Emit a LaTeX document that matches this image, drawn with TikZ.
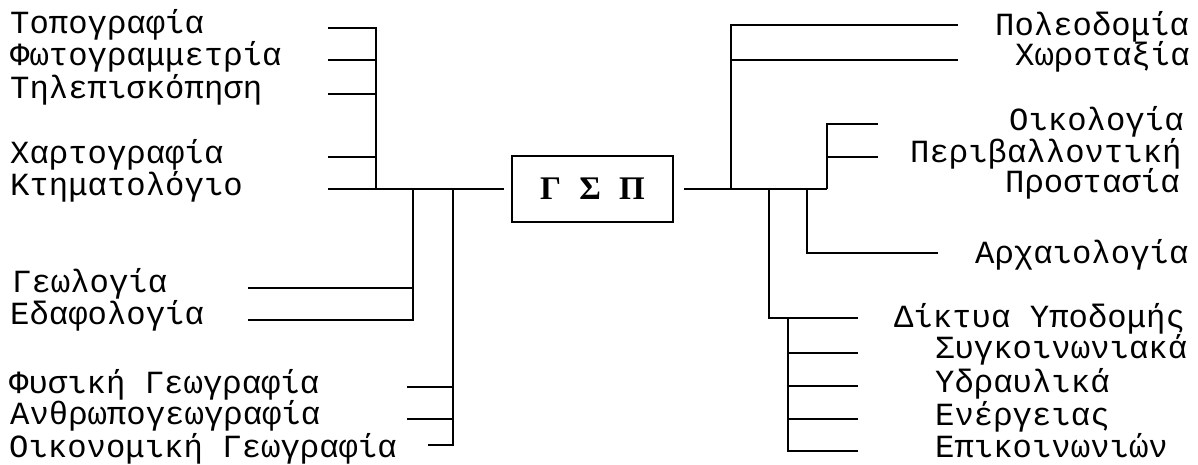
\documentclass[tikz,border=0pt]{standalone}
\usepackage{fontspec}
\newfontfamily\tw{Liberation Mono}
\newfontfamily\bx{Liberation Serif}
\begin{document}
\begin{tikzpicture}[x=1pt,y=-1pt,
  lbl/.style={anchor=base west, inner sep=0pt, font=\tw\fontsize{32.3}{38}\selectfont},
  conn/.style={line width=1.6pt, line join=miter},
  mainbox/.style={draw, line width=2.2pt, minimum width=161pt, minimum height=66pt, inner sep=0pt,
     font=\bx\bfseries\fontsize{33}{38}\selectfont}]
\useasboundingbox[fill=white] (0,0) rectangle (1198,464);

% centre
\node[mainbox] (gsp) at (592.5,189) {Γ\hspace{0.55em}Σ\hspace{0.55em}Π};

% left labels
\node[lbl] (topo) at (10,33) {Τοπογραφία};
\node[lbl] (foto) at (10,65) {Φωτογραμμετρία};
\node[lbl] (tile) at (10,98) {Τηλεπισκόπηση};
\node[lbl] (xart) at (10,163) {Χαρτογραφία};
\node[lbl] (ktim) at (10,195) {Κτηματολόγιο};
\node[lbl] (geol) at (12,292) {Γεωλογία};
\node[lbl] (edaf) at (10,324) {Εδαφολογία};
\node[lbl] (fysi) at (9,393) {Φυσική Γεωγραφία};
\node[lbl] (anth) at (10,424) {Ανθρωπογεωγραφία};
\node[lbl] (oiko) at (9,457) {Οικονομική Γεωγραφία};

% right labels
\node[lbl] (pole) at (995,35) {Πολεοδομία};
\node[lbl] (xoro) at (1015,65) {Χωροταξία};
\node[lbl] (oikl) at (1009,130) {Οικολογία};
\node[lbl] (peri) at (910,162) {Περιβαλλοντική};
\node[lbl] (pros) at (1005,192) {Προστασία};
\node[lbl] (arxa) at (975,263) {Αρχαιολογία};
\node[lbl] (dikt) at (894,327) {Δίκτυα Υποδομής};
\node[lbl] (sygk) at (935,358) {Συγκοινωνιακά};
\node[lbl] (ydra) at (935,392) {Υδραυλικά};
\node[lbl] (ener) at (935,425) {Ενέργειας};
\node[lbl] (epik) at (935,457) {Επικοινωνιών};

% left coordinates
\coordinate (sA1) at (328,28);  \coordinate (jA1) at (376,28);
\coordinate (sA2) at (328,60);  \coordinate (jA2) at (376,60);
\coordinate (sA3) at (328,94);  \coordinate (jA3) at (376,94);
\coordinate (sA4) at (328,157); \coordinate (jA4) at (376,157);
\coordinate (sA5) at (328,189); \coordinate (jA5) at (376,189);
\coordinate (jB0) at (413,189); \coordinate (jB1) at (413,288); \coordinate (jB2) at (413,320);
\coordinate (sB1) at (248,288); \coordinate (sB2) at (248,320);
\coordinate (jC0) at (453,189); \coordinate (jC1) at (453,387); \coordinate (jC2) at (453,419); \coordinate (jC3) at (453,445);
\coordinate (sC1) at (407,387); \coordinate (sC2) at (407,419); \coordinate (sC3) at (428,445);

% right coordinates
\coordinate (rD) at (731,189); \coordinate (rD1) at (731,25); \coordinate (rD2) at (731,60);
\coordinate (eD1) at (958,25); \coordinate (eD2) at (958,60);
\coordinate (rE) at (827,189); \coordinate (rE1) at (827,124); \coordinate (rE2) at (827,157);
\coordinate (eE1) at (878,124); \coordinate (eE2) at (878,157);
\coordinate (rF) at (807,189); \coordinate (rF1) at (807,253); \coordinate (eF1) at (938,253);
\coordinate (rG) at (769,189); \coordinate (rG1) at (769,318); \coordinate (eG1) at (858,318);
\coordinate (rH1) at (788,318); \coordinate (rH2) at (788,353); \coordinate (rH3) at (788,386);
\coordinate (rH4) at (788,419); \coordinate (rH5) at (788,451);
\coordinate (eH2) at (858,353); \coordinate (eH3) at (858,386); \coordinate (eH4) at (858,419); \coordinate (eH5) at (858,451);

% left connectors
\draw[conn] (sA1) -- (jA1) -- (jA5);
\draw[conn] (sA2) -- (jA2);
\draw[conn] (sA3) -- (jA3);
\draw[conn] (sA4) -- (jA4);
\draw[conn, shorten >=7pt] (sA5) -- (gsp.west);
\draw[conn] (jB0) -- (jB2) -- (sB2);
\draw[conn] (sB1) -- (jB1);
\draw[conn] (jC0) -- (jC3) -- (sC3);
\draw[conn] (sC1) -- (jC1);
\draw[conn] (sC2) -- (jC2);

% right connectors
\draw[conn, shorten <=10pt] (gsp.east) -- (rE);
\draw[conn] (eD1) -- (rD1) -- (rD);
\draw[conn] (rD2) -- (eD2);
\draw[conn] (rE) -- (rE1) -- (eE1);
\draw[conn] (rE2) -- (eE2);
\draw[conn] (rF) -- (rF1) -- (eF1);
\draw[conn] (rG) -- (rG1) -- (eG1);
\draw[conn] (rH1) -- (rH5) -- (eH5);
\draw[conn] (rH2) -- (eH2);
\draw[conn] (rH3) -- (eH3);
\draw[conn] (rH4) -- (eH4);
\end{tikzpicture}
\end{document}
